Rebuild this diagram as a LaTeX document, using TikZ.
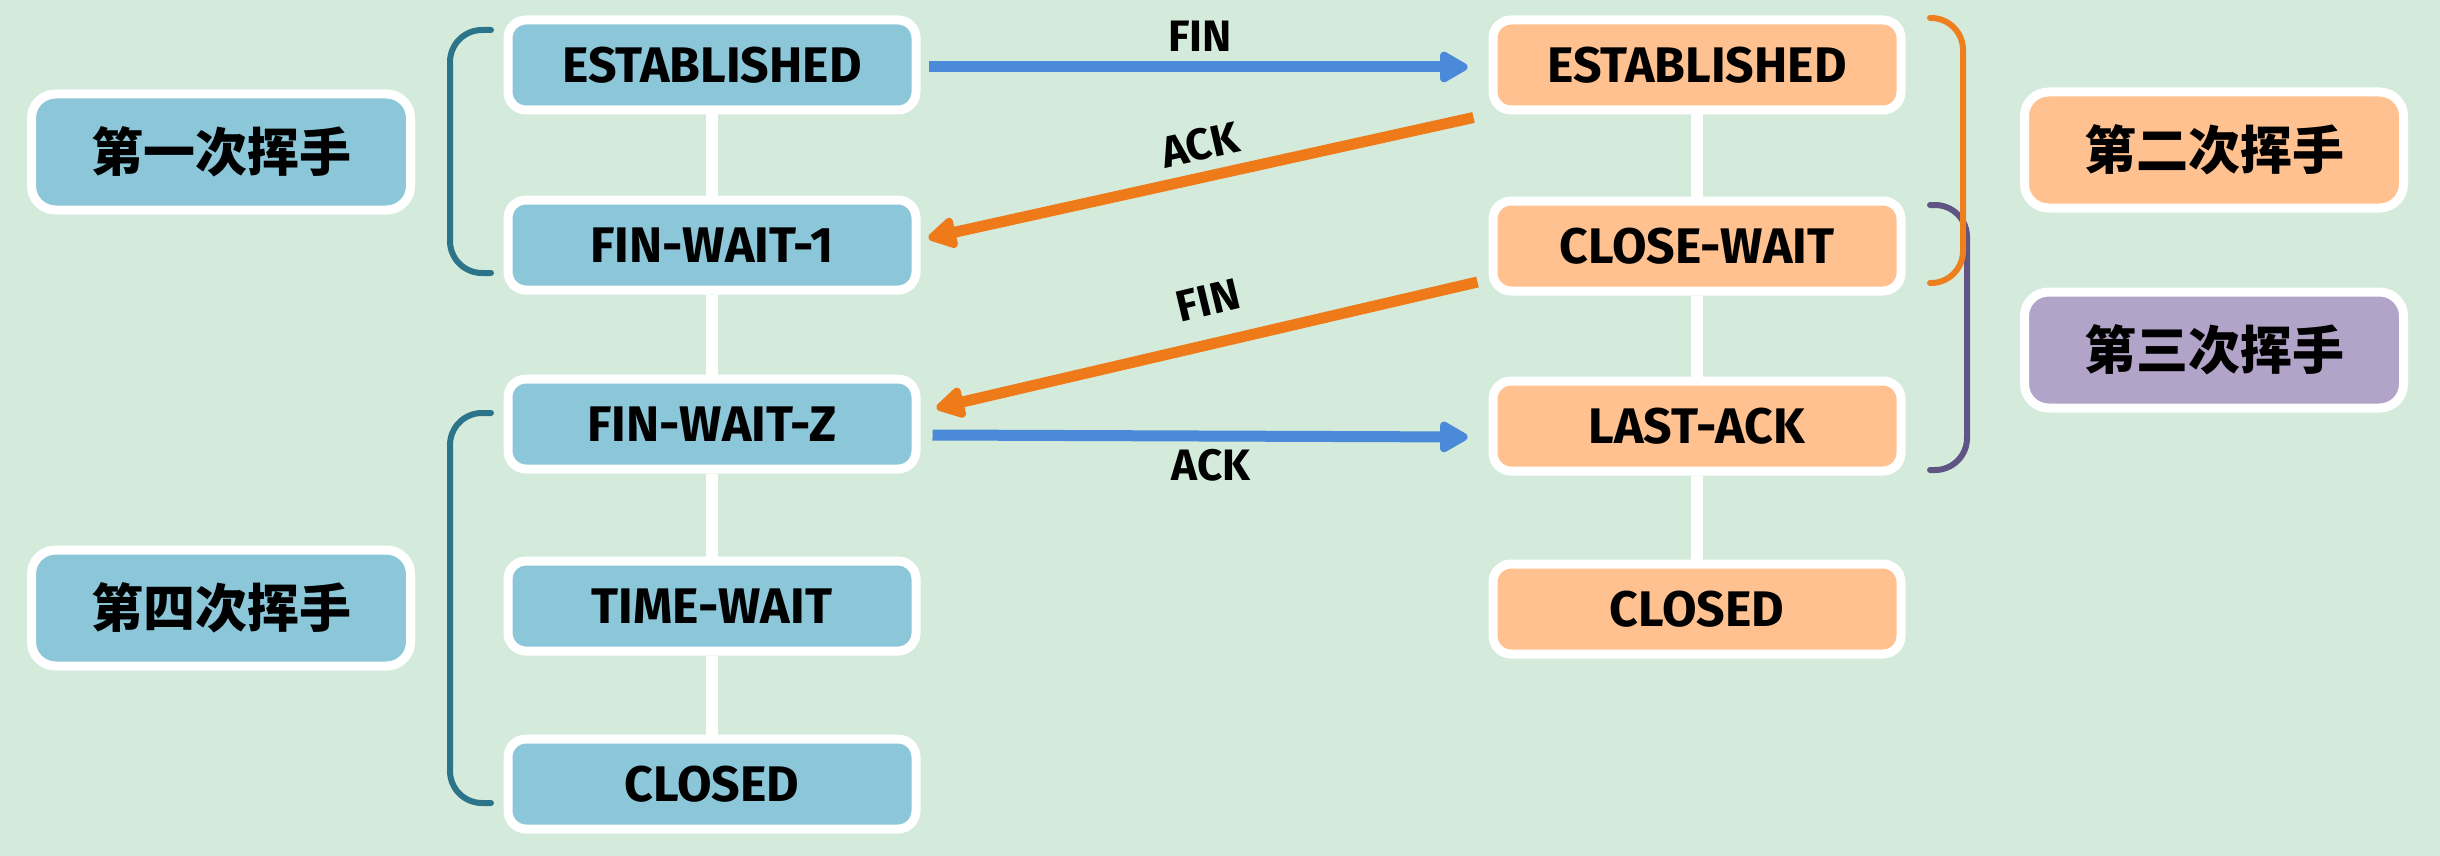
\documentclass[tikz,border=0pt]{standalone}
\usepackage{fontspec}
\setmainfont{Fira Sans}
\newfontfamily\cjk{Noto Sans CJK SC}
\usetikzlibrary{arrows.meta}
\definecolor{bgc}{HTML}{D4EBDC}
\definecolor{bluebox}{HTML}{8BC7D8}
\definecolor{orangebox}{HTML}{FFC18F}
\definecolor{purplebox}{HTML}{B2A4C9}
\definecolor{tealbr}{HTML}{2C7489}
\definecolor{orangebr}{HTML}{EE7F1E}
\definecolor{purplebr}{HTML}{5F5483}
\definecolor{bluearr}{HTML}{4A8AD8}
\definecolor{orangearr}{HTML}{EE7A1A}
\begin{document}
\begin{tikzpicture}[x=0.5pt,y=-0.5pt,
  state/.style={fill=#1, draw=white, line width=4.5pt, rounded corners=9pt,
    minimum width=204pt, minimum height=45pt, inner sep=0pt,
    font=\fontsize{25}{25}\selectfont\bfseries},
  phase/.style={fill=#1, draw=white, line width=4.5pt, rounded corners=12pt,
    minimum width=189.5pt, minimum height=58pt, inner sep=0pt,
    font=\cjk\fontsize{26}{26}\selectfont\bfseries},
  link/.style={draw=white, line width=6pt},
  bracket/.style={draw=#1, line width=3pt, rounded corners=16pt, line cap=round},
  msg/.style={draw=#1, line width=5.5pt, -{Triangle[length=16pt,width=17pt,round]}},
  lbl/.style={font=\fontsize{22}{22}\selectfont\bfseries, inner sep=0pt}
]
\fill[bgc] (0,0) rectangle (2440,856);
\useasboundingbox (0,0) rectangle (2440,856);

% left column
\node[state=bluebox] (l1) at (712,65)  {ESTABLISHED};
\node[state=bluebox] (l2) at (712,245) {FIN-WAIT-1};
\node[state=bluebox] (l3) at (712,424) {FIN-WAIT-Z};
\node[state=bluebox] (l4) at (712,606) {TIME-WAIT};
\node[state=bluebox] (l5) at (712,784) {CLOSED};

% right column
\node[state=orangebox] (r1) at (1697,65)  {ESTABLISHED};
\node[state=orangebox] (r2) at (1697,246) {CLOSE-WAIT};
\node[state=orangebox] (r3) at (1697,426) {LAST-ACK};
\node[state=orangebox] (r4) at (1697,609) {CLOSED};

% links
\draw[link] (l1.south) -- (l2.north);
\draw[link] (l2.south) -- (l3.north);
\draw[link] (l3.south) -- (l4.north);
\draw[link] (l4.south) -- (l5.north);
\draw[link] (r1.south) -- (r2.north);
\draw[link] (r2.south) -- (r3.north);
\draw[link] (r3.south) -- (r4.north);

% phase labels
\node[phase=bluebox] (p1) at (221,152) {第一次挥手};
\node[phase=bluebox] (p4) at (221,608) {第四次挥手};
\node[phase=orangebox] (p2) at (2214,150) {第二次挥手};
\node[phase=purplebox] (p3) at (2214,350) {第三次挥手};

% brackets
\draw[bracket=tealbr] (491,30) -- (450,30) -- (450,273) -- (491,273);
\draw[bracket=tealbr] (491,413) -- (450,413) -- (450,803) -- (491,803);
\draw[bracket=purplebr] (1930,205) -- (1967,205) -- (1967,470) -- (1930,470);
\draw[bracket=orangebr] (1930,18) -- (1963,18) -- (1963,283) -- (1930,283);

% messages
\draw[msg=bluearr] ([xshift=4pt,yshift=-1pt]l1.east) -- ([xshift=-10.5pt,yshift=-1pt]r1.west);
\draw[msg=orangearr] ([xshift=-7.5pt,yshift=-1.5pt]r1.south west) -- ([xshift=4pt,yshift=3.5pt]l2.east);
\draw[msg=orangearr] ([xshift=-5.5pt,yshift=6.75pt]r2.south west) -- ([xshift=8pt,yshift=8pt]l3.east);
\draw[msg=bluearr] ([xshift=6pt,yshift=-5.5pt]l3.east) -- ([xshift=-10.5pt,yshift=-5.5pt]r3.west);

% message labels
\node[lbl] (m1) at (1200,36) {FIN};
\node[lbl, rotate=12.8] (m2) at (1200,145) {ACK};
\node[lbl, rotate=13.5] (m3) at (1208,300) {FIN};
\node[lbl] (m4) at (1211,465) {ACK};
\end{tikzpicture}
\end{document}
